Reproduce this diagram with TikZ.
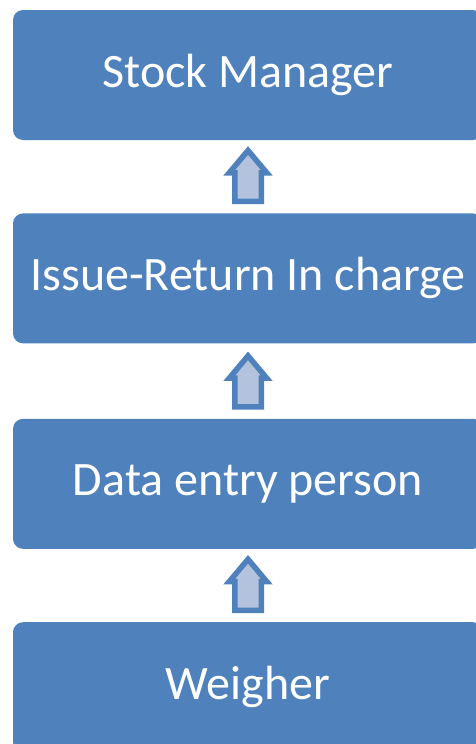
\documentclass[tikz,border=0pt]{standalone}
\usepackage{fontspec}
\setmainfont{Carlito}
\usepackage{tikz}
\usetikzlibrary{positioning, shapes.arrows}

\definecolor{boxblue}{HTML}{4F81BD}
\definecolor{arrowfill}{HTML}{B3C2DD}

\begin{document}
\begin{tikzpicture}[
    stage/.style={rectangle, rounded corners=10pt, fill=boxblue, text=white,
        minimum width=470pt, minimum height=130pt, inner sep=0pt,
        font=\fontsize{48}{57}\selectfont},
    uparrow/.style={single arrow, draw=boxblue, fill=arrowfill, line width=5.5pt,
        shape border rotate=90, minimum height=51pt,
        single arrow head extend=5.5pt, single arrow tip angle=80, inner sep=10.5pt}
    ]
        \useasboundingbox (0,0) rectangle (475pt,-744pt);
        \node [stage] (mgr) at (248pt,-75pt) {Stock Manager};
        \node [stage, below=73pt of mgr] (issue) {Issue-Return In charge};
        \node [stage, below=75pt of issue] (entry) {Data entry person};
        \node [stage, below=73pt of entry] (weigh) {Weigher};
        \node [uparrow, above=9pt of issue] (a1) {};
        \node [uparrow, above=9pt of entry] (a2) {};
        \node [uparrow, above=9pt of weigh] (a3) {};
    \end{tikzpicture}
\end{document}
